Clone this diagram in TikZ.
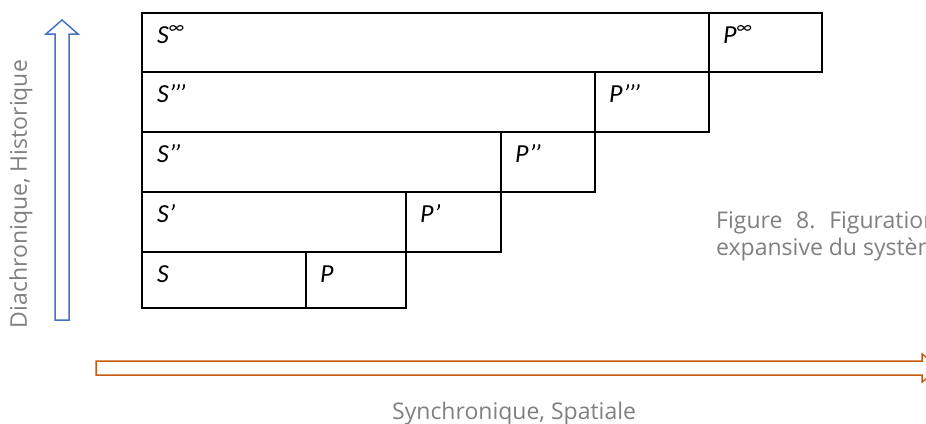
\documentclass[tikz,border=0pt]{standalone}
\usepackage{fontspec}
\setmainfont{Open Sans}
\newfontfamily\cellfont{Carlito}
\usetikzlibrary{positioning}
\definecolor{axeblue}{HTML}{4472C4}
\definecolor{axeorange}{HTML}{C55A11}
\definecolor{textgray}{HTML}{808080}
\tikzstyle{cell} = [draw=black, line width=1.6pt]
\tikzstyle{cell label} = [anchor=base west, inner sep=0pt, font=\cellfont\itshape\fontsize{26}{30}\selectfont]
\tikzstyle{axis label} = [inner sep=0pt, text=textgray, font=\fontsize{23}{28}\selectfont]

\begin{document}
\begin{tikzpicture}[x=1pt,y=-1pt]
  \useasboundingbox (0,0) rectangle (926,423);
  % Tableau S / P
  \foreach \ytop/\ybot/\xs/\xp/\suff [count=\i] in {252/308/306/406/{}, 192/252/406/501/{’}, 132/192/501/595/{’\kern-.05em’}, 72/132/595/709/{’\kern-.05em’\kern-.05em’}, 13/72/709/822/{\textsuperscript{∞}}}{
    \draw[cell] (142,\ytop) rectangle (\xs,\ybot);
    \draw[cell] (\xs,\ytop) rectangle (\xp,\ybot);
    \node[cell label] (s\i) at (157,\ytop+30) {S\suff};
    \node[cell label] (p\i) at (\xs+14,\ytop+30) {P\suff};
  }
  % Diachronie
  \draw[axeblue, line width=1.5pt] (55,320) -- (55,34) -- (46,34) -- (62,20) -- (78,34) -- (69,34) -- (69,320) -- cycle;
  % Synchronie
  \draw[axeorange, line width=1.5pt] (96,361) -- (922,361) -- (922,354) -- (940,368) -- (922,382) -- (922,375) -- (96,375) -- cycle;
  % Textes
  \node[axis label, rotate=90, anchor=base] (diachro) at (27,194) {Diachronique, Historique};
  \node[axis label, anchor=base west] (synchro) at (392,419) {Synchronique, Spatiale};
  \node[axis label, anchor=base west] (fig1) at (716,228) {Figure\hspace{.6em}8.\hspace{.6em}Figuration};
  \node[axis label, anchor=base west] (fig2) at (716,255) {expansive du système};
\end{tikzpicture}
\end{document}
